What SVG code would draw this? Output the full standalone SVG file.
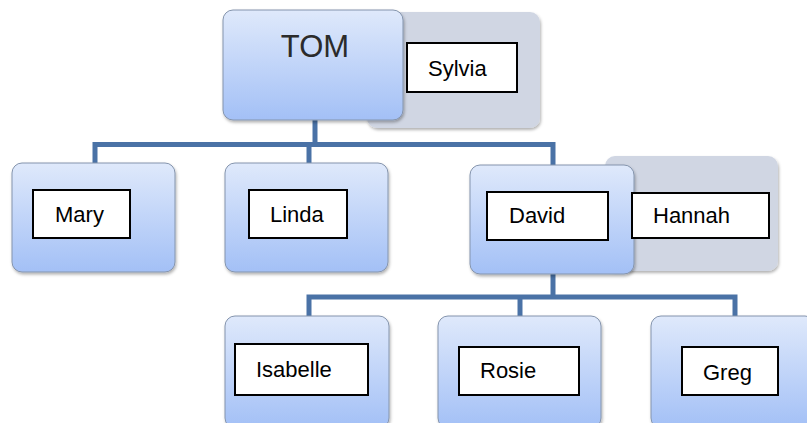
<svg xmlns="http://www.w3.org/2000/svg" width="807" height="423" viewBox="0 0 807 423">
<defs>
<linearGradient id="blue" x1="0" y1="0" x2="0" y2="1">
<stop offset="0" stop-color="#dfe9fb"/>
<stop offset="1" stop-color="#a3c0f6"/>
</linearGradient>
<filter id="sh" x="-10%" y="-10%" width="125%" height="125%">
<feDropShadow dx="1" dy="2" stdDeviation="1.5" flood-color="#000" flood-opacity="0.3"/>
</filter>
</defs>
<style>
.box{fill:url(#blue);stroke:#8494ad;stroke-width:1;filter:url(#sh)}
.back{fill:#d0d6e3;filter:url(#sh)}
.lbl{fill:#fff;stroke:#000;stroke-width:2}
.t{font-family:"Liberation Sans",Arial,sans-serif;font-size:22px;fill:#000}
.c{fill:none;stroke:#4a72a6;stroke-width:5}
</style>
<g id="connectors">
<path class="c" d="M315 120 V144.5"/>
<path class="c" d="M95 163 V144.5 H553 V165"/>
<path class="c" d="M309 144.5 V165"/>
<path class="c" d="M553 274 V297"/>
<path class="c" d="M309 316 V297 H735 V316"/>
<path class="c" d="M520 297 V316"/>
</g>
<g id="sylvia">
<rect class="back" x="367" y="12" width="173" height="116" rx="10"/>
</g>
<g id="tom">
<rect class="box" x="223" y="10" width="180" height="110" rx="10"/>
<text x="315" y="57" text-anchor="middle" style="font-family:'Liberation Sans',Arial,sans-serif;font-size:31px;fill:#2b2b2b">TOM</text>
</g>
<g id="sylvia-label">
<rect class="lbl" x="407" y="43" width="110" height="49"/>
<text class="t" x="428" y="76">Sylvia</text>
</g>
<g id="mary">
<rect class="box" x="12" y="163" width="163" height="109" rx="10"/>
<rect class="lbl" x="33" y="190" width="97" height="48"/>
<text class="t" x="55" y="222">Mary</text>
</g>
<g id="linda">
<rect class="box" x="225" y="163" width="163" height="109" rx="10"/>
<rect class="lbl" x="249" y="190" width="98" height="48"/>
<text class="t" x="270" y="222">Linda</text>
</g>
<g id="hannah">
<rect class="back" x="605" y="156" width="173" height="115" rx="10"/>
</g>
<g id="david">
<rect class="box" x="470" y="165" width="164" height="109" rx="10"/>
<rect class="lbl" x="487" y="192" width="121" height="48"/>
<text class="t" x="509" y="223">David</text>
</g>
<g id="hannah-label">
<rect class="lbl" x="632" y="193" width="137" height="45"/>
<text class="t" x="653" y="223">Hannah</text>
</g>
<g id="isabelle">
<rect class="box" x="225" y="316" width="164" height="112" rx="10"/>
<rect class="lbl" x="235" y="344" width="133" height="51"/>
<text class="t" x="256" y="377">Isabelle</text>
</g>
<g id="rosie">
<rect class="box" x="438" y="316" width="163" height="112" rx="10"/>
<rect class="lbl" x="459" y="347" width="120" height="48"/>
<text class="t" x="480" y="378">Rosie</text>
</g>
<g id="greg">
<rect class="box" x="651" y="316" width="164" height="112" rx="10"/>
<rect class="lbl" x="682" y="347" width="96" height="48"/>
<text class="t" x="703" y="380">Greg</text>
</g>
</svg>
